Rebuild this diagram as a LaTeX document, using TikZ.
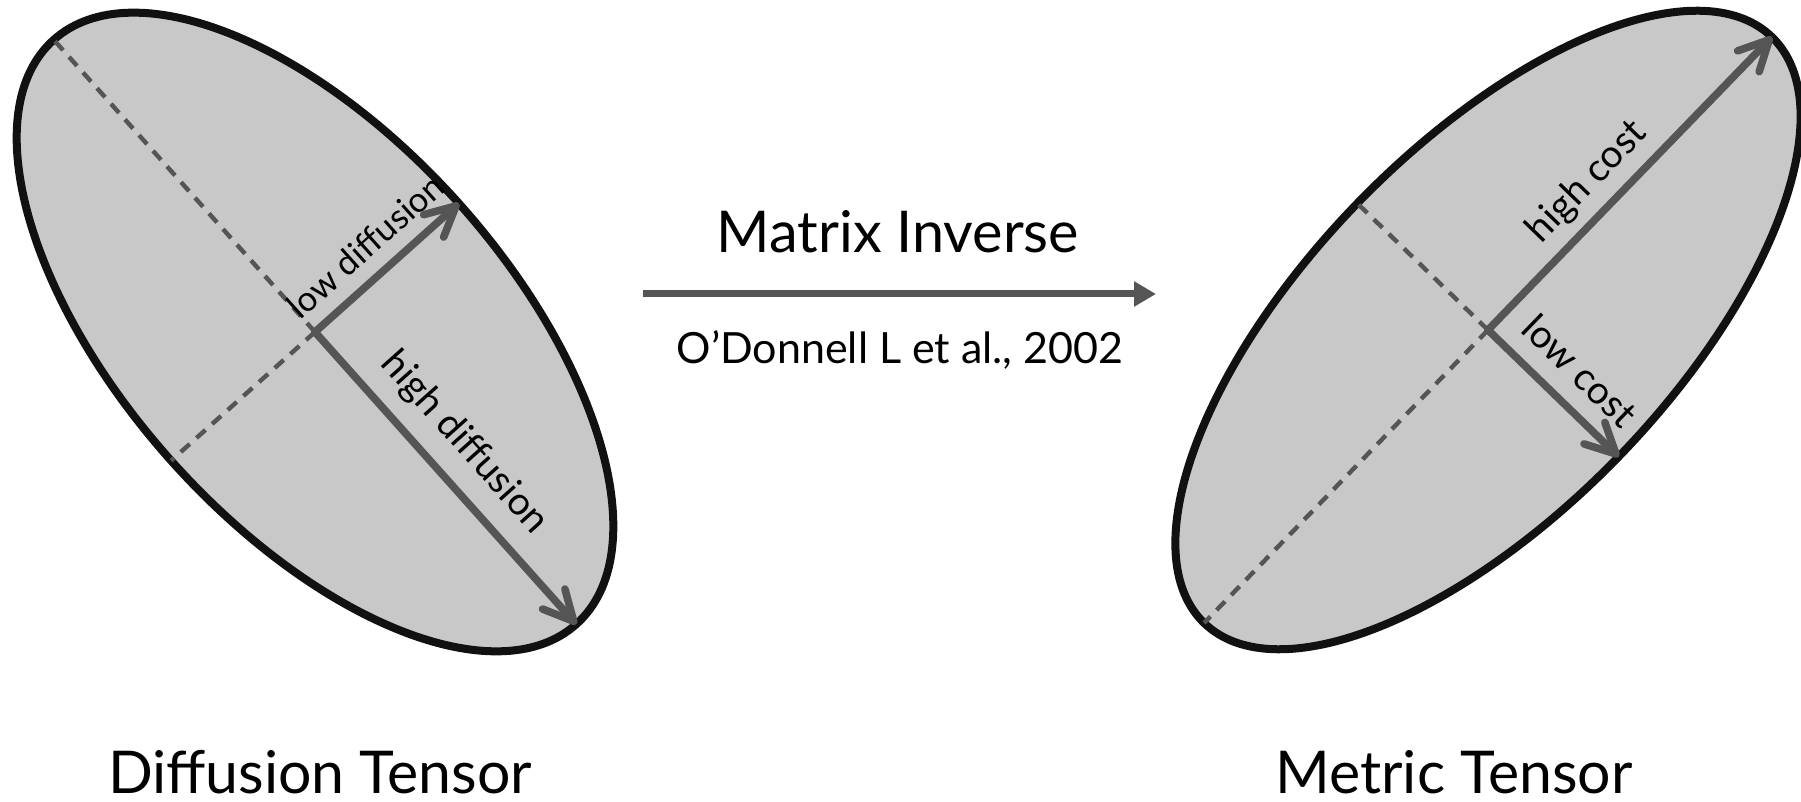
\documentclass[tikz,border=0pt]{standalone}
\usepackage{fontspec}
\setmainfont{Lato}
\usetikzlibrary{arrows.meta,shapes.geometric}
\definecolor{fillgray}{HTML}{C8C8C8}
\definecolor{edgeblack}{HTML}{111111}
\definecolor{axisgray}{HTML}{555555}
\begin{document}
\begin{tikzpicture}[x=0.5pt,y=0.5pt,
  tensor/.style={ellipse, draw=edgeblack, fill=fillgray, line width=4pt, inner sep=0pt, outer sep=0pt},
  axisarrow/.style={draw=axisgray, line width=3.8pt, line cap=round,
    -{Straight Barb[length=15pt, width=15pt, round]}},
  dashaxis/.style={draw=axisgray, line width=2.2pt, dash pattern=on 6pt off 4.5pt},
  mainarrow/.style={draw=axisgray, line width=3.5pt, -{Triangle[length=11pt, width=12pt]}},
  lbl/.style={font=\fontsize{19.3pt}{19.3pt}\selectfont, inner sep=1pt, text=black},
  smalllbl/.style={font=\fontsize{17.3pt}{17.3pt}\selectfont, inner sep=1pt, text=black},
  titlefont/.style={font=\fontsize{29.5pt}{29.5pt}\selectfont, anchor=base},
]
\useasboundingbox (0,0) rectangle (1801,-802);
% left ellipse
\node[tensor, minimum width=392pt, minimum height=193pt, rotate=-48.2] (L) at (315,-332) {};
\draw[dashaxis] (L.center) -- (L.west);
\draw[dashaxis] (L.center) -- (L.south);
\draw[axisarrow] (L.center) -- node[smalllbl, sloped, above=6pt, pos=0.49] (lowd) {low diffusion} (L.north);
\draw[axisarrow] (L.center) -- node[lbl, sloped, above=7pt, pos=0.465] (highd) {high diffusion} (L.east);
% right ellipse
\node[tensor, minimum width=408pt, minimum height=182pt, rotate=45.9] (R) at (1488,-330) {};
\draw[dashaxis] (R.center) -- (R.west);
\draw[dashaxis] (R.center) -- (R.north);
\draw[axisarrow] (R.center) -- node[lbl, sloped, above=4pt, pos=0.43] (highc) {high cost} (R.east);
\draw[axisarrow] (R.center) -- node[lbl, sloped, above=7.5pt, pos=0.52] (lowc) {low cost} (R.south);
% middle arrow
\coordinate (a1) at (643,-294);
\coordinate (a2) at (1156,-294);
\draw[mainarrow] (a1) -- (a2);
\node[anchor=base, font=\fontsize{28.8pt}{28.8pt}\selectfont] (mi) at (898,-253) {Matrix Inverse};
\node[anchor=base, font=\fontsize{21.5pt}{21.5pt}\selectfont] (od) at (900,-364) {O’Donnell L et al., 2002};
% titles
\node[titlefont] (dt) at (320,-793) {Diffusion Tensor};
\node[titlefont] (mt) at (1454,-793) {Metric Tensor};
\end{tikzpicture}
\end{document}
